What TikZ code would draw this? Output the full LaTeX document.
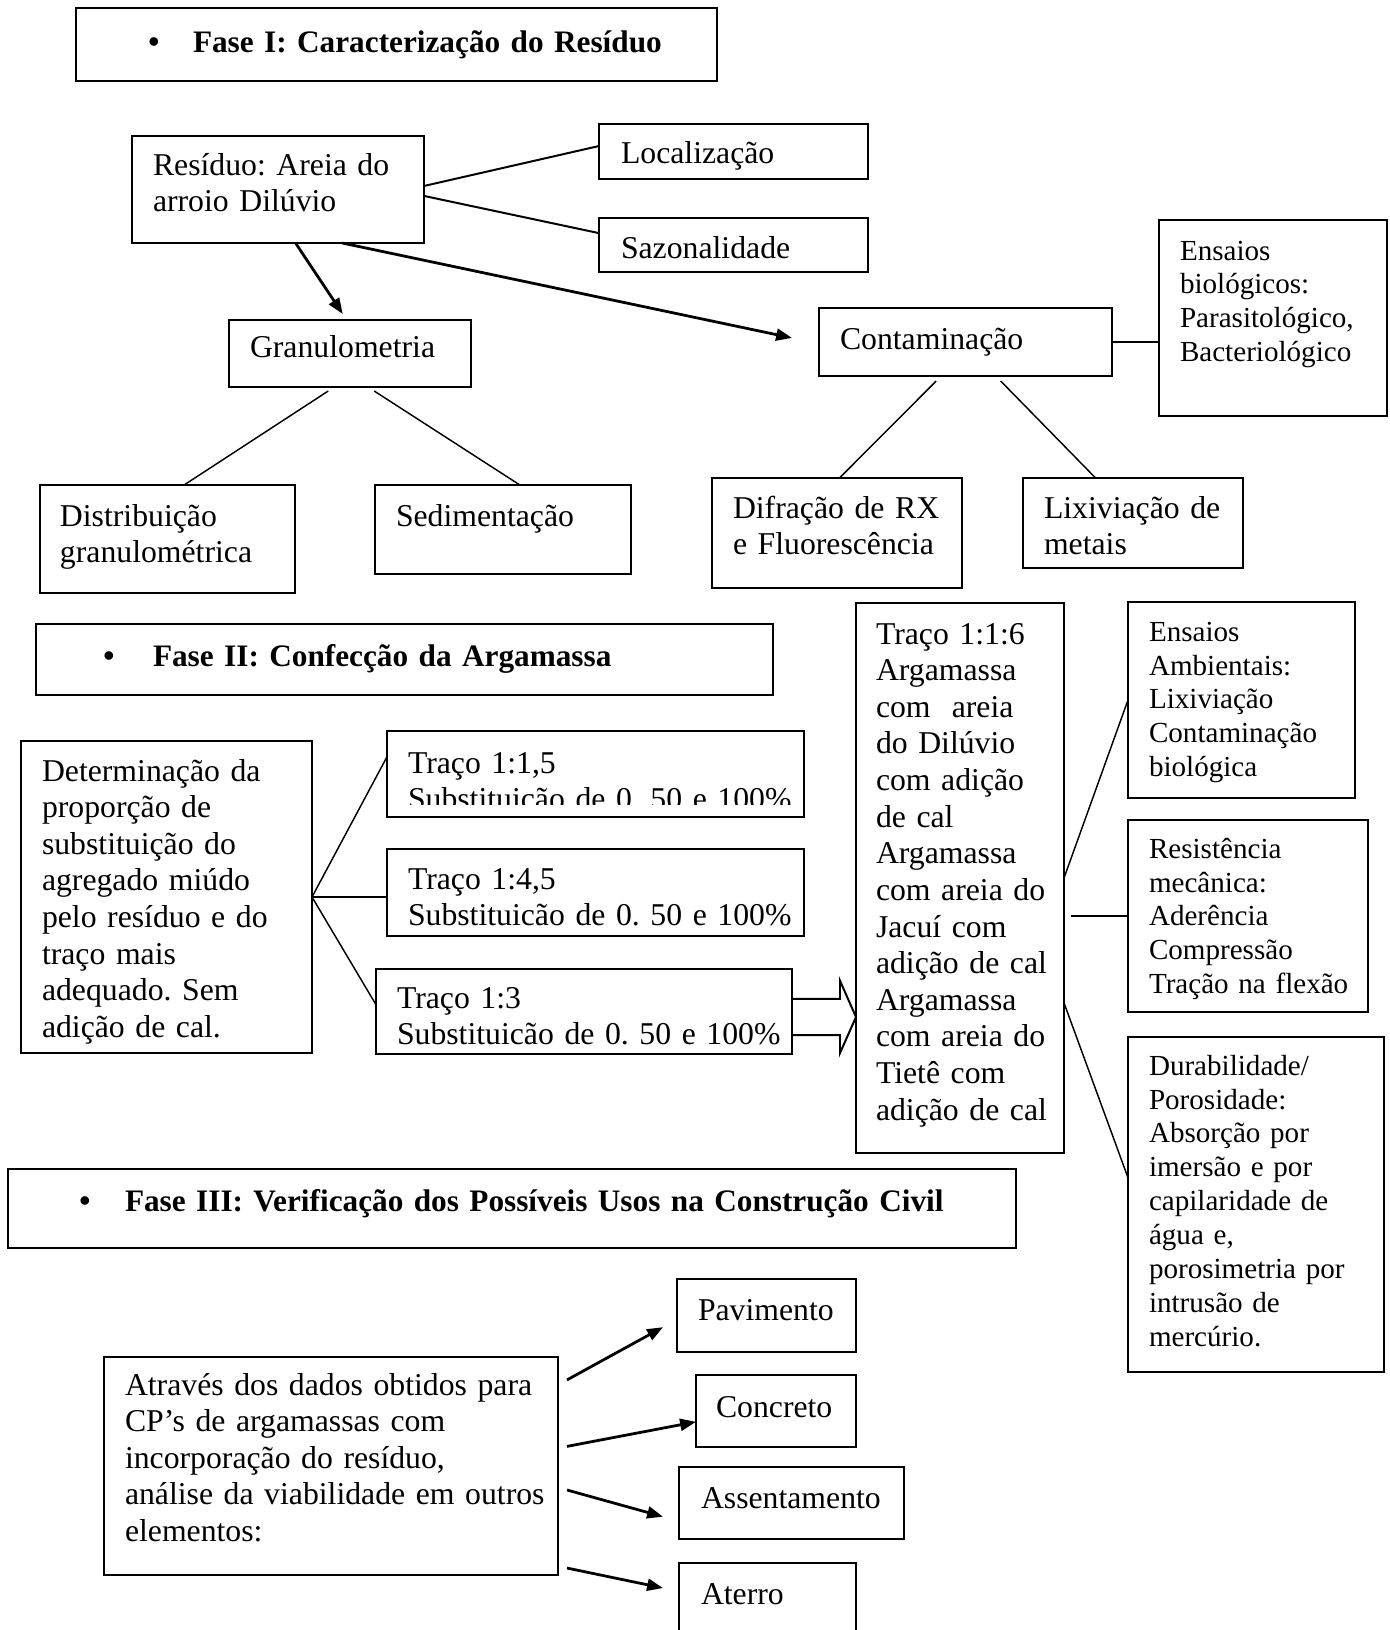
\documentclass[tikz,border=0pt]{standalone}
\usepackage{fontspec}
\setmainfont{Liberation Serif}
\usetikzlibrary{calc,arrows.meta}
\frenchspacing
\newcommand\mainsz{\fontsize{12pt}{13.85pt}\selectfont}
\newcommand\headsz{\fontsize{11.82pt}{13.85pt}\selectfont}
\newcommand\smallsz{\fontsize{11pt}{12.85pt}\selectfont}
\begin{document}
\begin{tikzpicture}[x=0.3781pt,y=-0.3781pt,
  box/.style n args={2}{draw, line width=0.8pt, inner sep=0pt, outer sep=0pt, anchor=north west,
    minimum width=#1*0.3781pt, minimum height=#2*0.3781pt},
  txt/.style={anchor=base west, inner sep=0pt, outer sep=0pt, text width=400pt, align=left, font=\mainsz},
  stxt/.style={txt, font=\smallsz},
  htxt/.style={txt, font=\headsz\bfseries},
  bul/.style={anchor=base, inner sep=0pt, outer sep=0pt, font=\mainsz\bfseries},
  conn/.style={line width=0.75pt},
  tconn/.style={line width=0.55pt},
  arr/.style={line width=1.05pt, -{Triangle[length=6pt,width=4.5pt]}},
]
\path[use as bounding box, fill=white] (0,0) rectangle (1389,1630);
\clip (0,0) rectangle (1389,1630);

% ---------------- Fase I
\node[box={641}{73}] (f1) at (76,8) {};
\node[bul] (f1b) at (154,52) {•};
\node[htxt] (f1t) at (193,52) {Fase I: Caracterização do Resíduo};

\node[box={292}{107}] (res) at (132,136) {};
\node[txt] (rest) at (153,175) {Resíduo: Areia do\\arroio Dilúvio};

\node[box={269}{55}] (loc) at (599,124) {};
\node[txt] (loct) at (621,163) {Localização};

\node[box={269}{54}] (saz) at (599,218) {};
\node[txt] (sazt) at (621,258) {Sazonalidade};

\node[box={242}{67}] (gran) at (229,320) {};
\node[txt] (grant) at (250,357) {Granulometria};

\node[box={293}{68}] (cont) at (819,308) {};
\node[txt] (contt) at (840,349) {Contaminação};

\node[box={228}{196}] (bio) at (1159,220) {};
\node[stxt] (biot) at (1180,260) {Ensaios\\biológicos:\\Parasitológico,\\Bacteriológico};

\node[box={255}{108}] (dist) at (40,485) {};
\node[txt] (distt) at (60,526) {Distribuição\\granulométrica};

\node[box={256}{89}] (sed) at (375,485) {};
\node[txt] (sedt) at (396,526) {Sedimentação};

\node[box={250}{110}] (dif) at (712,478) {};
\node[txt] (dift) at (733,518) {Difração de RX\\e Fluorescência};

\node[box={220}{90}] (lix) at (1023,478) {};
\node[txt] (lixt) at (1044,518) {Lixiviação de\\metais};

\draw[conn] ($(res.north east)!0.467!(res.south east)$) -- ($(loc.north west)!0.4!(loc.south west)$);
\draw[conn] ($(res.north east)!0.56!(res.south east)$) -- ($(saz.north west)!0.28!(saz.south west)$);
\draw[arr] ($(res.south west)!0.56!(res.south east)$) -- ($(gran.north west)!0.47!(gran.north east)+(0,-6)$);
\draw[arr] ($(res.south west)!0.72!(res.south east)$) -- ($(cont.north west)!0.44!(cont.south west)+(-27,0)$);
\draw[tconn] ($(gran.south west)!0.41!(gran.south east)+(0,4)$) -- ($(dist.north west)!0.565!(dist.north east)$);
\draw[tconn] ($(gran.south west)!0.6!(gran.south east)+(0,4)$) -- ($(sed.north west)!0.566!(sed.north east)$);
\draw[tconn] ($(cont.south west)!0.4!(cont.south east)+(0,5)$) -- ($(dif.north west)!0.51!(dif.north east)$);
\draw[tconn] ($(cont.south west)!0.62!(cont.south east)+(0,5)$) -- ($(lix.north west)!0.33!(lix.north east)$);
\draw[conn] (cont.east) -- (cont.east -| bio.west);

% ---------------- Fase II
\node[box={737}{71}] (f2) at (36,624) {};
\node[bul] (f2b) at (109,666) {•};
\node[htxt] (f2t) at (153,666) {Fase II: Confecção da Argamassa};

\node[box={291}{312}] (det) at (21,741) {};
\node[txt] (dett) at (42,781) {Determinação da\\proporção de\\substituição do\\agregado miúdo\\pelo resíduo e do\\traço mais\\adequado. Sem\\adição de cal.};

\node[box={417}{86}] (t1) at (387,731) {};
\begin{scope}
\clip (t1.north west) rectangle ($(t1.south east)+(0,-13)$);
\node[txt] (t1t) at (408,773) {Traço 1:1,5\\Substituicão de 0. 50 e 100\%};
\end{scope}

\node[box={417}{87}] (t2) at (387,849) {};
\node[txt] (t2t) at (408,889) {Traço 1:4,5\\Substituicão de 0. 50 e 100\%};

\node[box={416}{85}] (t3) at (376,969) {};
\node[txt] (t3t) at (397,1008) {Traço 1:3\\Substituicão de 0. 50 e 100\%};

\node[box={208}{550}] (t116) at (856,603) {};
\node[txt] (t116t) at (876,644) {Traço 1:1:6\\Argamassa\\com\ \ areia\\do Dilúvio\\com adição\\de cal\\Argamassa\\com areia do\\Jacuí com\\adição de cal\\Argamassa\\com areia do\\Tietê com\\adição de cal};

\node[box={227}{196}] (amb) at (1128,602) {};
\node[stxt] (ambt) at (1149,641) {Ensaios\\Ambientais:\\Lixiviação\\Contaminação\\biológica};

\node[box={240}{192}] (mec) at (1128,820) {};
\node[stxt] (mect) at (1149,858) {Resistência\\mecânica:\\Aderência\\Compressão\\Tração na flexão};

\node[box={256}{335}] (dur) at (1128,1037) {};
\node[stxt] (durt) at (1149,1075) {Durabilidade/\\Porosidade:\\Absorção por\\imersão e por\\capilaridade de\\água e,\\porosimetria por\\intrusão de\\mercúrio.};

\draw[tconn] (det.east) -- ($(t1.north west)!0.3!(t1.south west)$);
\draw[tconn] (det.east) -- (det.east -| t2.west);
\draw[tconn] (det.east) -- ($(t3.north west)!0.42!(t3.south west)$);

\coordinate (bt) at ($(t3.north east)!0.565!(t3.south east)$);
\coordinate (btip) at (bt -| t116.west);
\draw[conn, line join=miter] ($(t3.north east)!0.35!(t3.south east)$) -- ++(48,0) -- ++(0,-18) -- (btip)
  -- ($(btip)+(-16,36)$) -- ++(0,-18) -- ++(-48,0);

\draw[tconn] (t116.east) -- (amb.west);
\draw[tconn] ($(t116.east |- mec.west)+(7,0)$) -- (mec.west);
\draw[tconn] ($(t116.north east)!0.727!(t116.south east)$) -- ($(dur.north west)!0.42!(dur.south west)$);

% ---------------- Fase III
\node[box={1008}{79}] (f3) at (8,1169) {};
\node[bul] (f3b) at (85,1211) {•};
\node[htxt] (f3t) at (125,1211) {Fase III: Verificação dos Possíveis Usos na Construção Civil};

\node[box={454}{218}] (atr) at (104,1357) {};
\node[txt] (atrt) at (125,1395) {Através dos dados obtidos para\\CP’s de argamassas com\\incorporação do resíduo,\\análise da viabilidade em outros\\elementos:};

\node[box={179}{73}] (pav) at (677,1279) {};
\node[txt] (pavt) at (698,1320) {Pavimento};

\node[box={160}{72}] (conc) at (696,1375) {};
\node[txt] (conct) at (716,1417) {Concreto};

\node[box={225}{72}] (ass) at (679,1467) {};
\node[txt] (asst) at (701,1508) {Assentamento};

\node[box={177}{100}] (ater) at (679,1563) {};
\node[txt] (atert) at (701,1604) {Aterro};

\draw[arr] ($(atr.north east)!0.105!(atr.south east)+(9,0)$) -- ($(pav.north west)!0.66!(pav.south west)+(-14,0)$);
\draw[arr] ($(atr.north east)!0.41!(atr.south east)+(9,0)$) -- ($(conc.north west)!0.65!(conc.south west)$);
\draw[arr] ($(atr.north east)!0.61!(atr.south east)+(9,0)$) -- ($(ass.north west)!0.69!(ass.south west)+(-16,0)$);
\draw[arr] ($(atr.north east)!0.968!(atr.south east)+(9,0)$) -- ($(ater.north west)+(-16,25)$);
\end{tikzpicture}
\end{document}
